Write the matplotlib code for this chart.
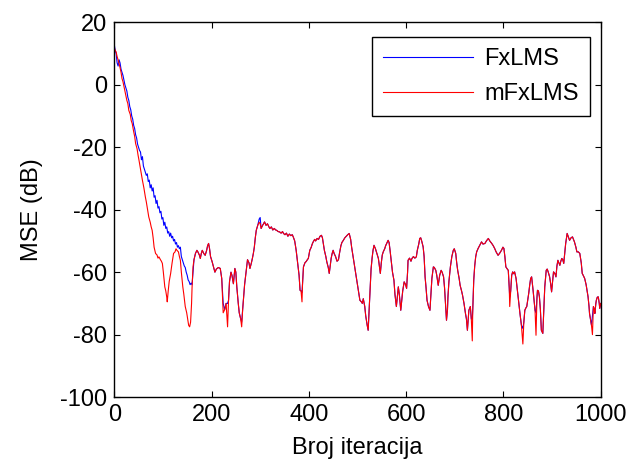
from matplotlib import pyplot as plt
import numpy as np

plt.rcParams['font.family'] = ['Liberation Sans', 'DejaVu Sans']
plt.rcParams['axes.unicode_minus'] = False

FONT_SIZE = 17

# convergence phase, FxLMS (iteration, MSE in dB)
fx_head_it = [0, 2, 4, 6, 8, 10, 12, 14, 16, 18, 20, 22, 24, 26, 28, 30, 32, 34, 36, 38,
              40, 42, 44, 46, 48, 50, 52, 54, 56, 58, 60, 62, 64, 66, 68, 70, 72, 74, 76, 78,
              80, 82, 84, 86, 88, 90, 92, 94, 96, 98, 100, 102, 104, 106, 108, 110, 112, 114,
              116, 118, 120, 122, 124, 126, 128, 130, 132, 134, 136, 138, 140, 142, 144, 146,
              148, 150, 152, 154, 156, 158, 160, 162, 164, 167]
fx_head_db = [13, 11, 10, 7, 6, 8, 7, 5, 4, 3, 1.5, 0, -1, -2, -4, -5, -7, -8, -10, -11,
              -13, -14, -16, -17, -19, -20, -21, -21.5, -24, -23, -26, -27, -28, -29, -28.5, -31, -30.5, -33, -32, -34,
              -33, -36, -35.5, -38, -37, -39.5, -39, -41, -40.5, -43, -42.5, -45, -44, -46, -45.5, -47.5, -47, -48.5,
              -47.5, -49, -48.5, -50, -49.5, -51, -50.5, -52, -51.5, -52.5, -52, -55, -56, -57, -58, -58.5,
              -60, -61, -62.5, -63, -64, -63.5, -64, -60, -56, -54]

# convergence phase, mFxLMS
mfx_head_it = [0, 2, 4, 6, 8, 10, 12, 14, 16, 18, 20, 23, 26, 28, 30, 33, 35, 37, 40, 42,
               44, 47, 49, 51, 54, 56, 58, 61, 64, 66, 68, 71, 74, 76, 78, 80, 82, 85, 88, 90,
               92, 95, 97, 99, 101, 104, 106, 108, 109, 111, 113, 116, 119, 122, 125, 127, 129,
               132, 134, 136, 138, 141, 143, 146, 149, 152, 153, 155, 157, 159, 160, 162, 164, 167]
mfx_head_db = [12, 11, 10.5, 9, 8, 6.8, 5.5, 4, 2, 1, -0.5, -2.8, -5, -6, -8.2, -9.5, -11.5, -12.4, -15, -16.5,
               -18.8, -20.5, -22.5, -24.2, -27, -29, -30.6, -33, -35.9, -37.5, -39.5, -42.3, -44, -45.5, -46.6, -49, -52, -54, -54.5, -55.5,
               -55.1, -56, -56.5, -57.2, -60, -64.7, -66, -68, -69.5, -66, -63, -60.4, -57, -54, -53.5, -52.5, -53,
               -53.5, -55, -56.2, -60, -64.7, -67, -71, -73, -75.9, -77, -77.5, -76, -70, -65, -58.3, -56, -54]

# steady state, both algorithms follow the same trajectory
tail_it = [170, 172, 175, 177, 179, 181, 184, 187, 190, 192, 194, 196, 198, 201, 204, 207, 210, 214, 218, 221,
           224, 227, 230, 233, 235, 237, 240, 242, 245, 248, 250, 252, 255, 257, 260, 262, 264, 266, 268, 271,
           274, 277, 279, 282, 284, 286, 288, 290, 292, 295, 298, 300, 302, 305, 307, 309, 312, 315, 318, 320,
           323, 326, 329, 332, 334, 337, 340, 343, 346, 348, 351, 354, 357, 360, 363, 366, 368, 371, 374, 377,
           380, 382, 384, 386, 387, 389, 392, 395, 397, 399, 402, 405, 407, 409, 412, 414, 417, 420, 423, 426,
           428, 430, 432, 435, 437, 440, 442, 444, 446, 448, 450, 452, 455, 458, 461, 463, 466, 468, 471, 474,
           477, 480, 483, 486, 488, 491, 494, 497, 500, 503, 505, 508, 510, 512, 515, 517, 520, 522, 524, 526,
           528, 530, 532, 534, 537, 540, 543, 545, 547, 549, 551, 553, 556, 558, 561, 563, 565, 567, 570, 572,
           575, 577, 580, 582, 584, 586, 589, 591, 593, 596, 599, 601, 603, 604, 607, 610, 612, 615, 618, 621,
           623, 626, 628, 630, 632, 635, 637, 639, 641, 643, 646, 649, 651, 653, 656, 658, 661, 663, 666, 669,
           672, 674, 677, 679, 681, 683, 685, 686, 688, 691, 694, 697, 699, 702, 704, 706, 709, 711, 714, 716,
           719, 722, 724, 726, 728, 729, 732, 734, 736, 737, 739, 741, 743, 745, 748, 751, 755, 758, 762, 765,
           769, 772, 776, 779, 782, 785, 789, 792, 796, 799, 801, 803, 805, 808, 810, 812, 813, 815, 817, 819,
           821, 823, 826, 828, 831, 834, 837, 840, 842, 844, 846, 848, 850, 852, 854, 856, 858, 861, 863, 865,
           867, 869, 870, 872, 874, 876, 878, 881, 883, 885, 888, 890, 892, 895, 897, 899, 901, 903, 906, 908,
           910, 912, 914, 916, 918, 920, 922, 924, 926, 928, 931, 933, 936, 939, 942, 944, 946, 949, 951, 954,
           957, 960, 962, 964, 967, 970, 972, 974, 976, 977, 979, 981, 983, 985, 987, 988, 990, 991, 993, 995,
           997, 998, 1000]
tail_db = [-53, -53.5, -54.5, -55.6, -54, -53, -54, -54.6, -53, -51.5, -50.8, -52.5, -55, -56.5, -58.3, -60, -59, -58.5, -58.8, -62,
           -73, -72, -70, -77.5, -69, -63, -60, -61, -63.7, -58.8, -60, -64.7, -70, -73, -75, -77.5, -72, -68, -64, -60,
           -56, -57, -58.8, -57, -55.6, -54, -52, -49, -46.6, -45, -44, -44.5, -46, -45, -44.5, -43.9, -45, -44.5, -45.5, -46,
           -45.5, -46.5, -46, -46.5, -46.6, -47, -47.1, -47.5, -47, -47.6, -48, -47.5, -48.5, -47.8, -48.3, -48, -48.7, -50, -53, -57,
           -61, -65.8, -66, -69.5, -64, -58.3, -57, -56.5, -56, -55.6, -53, -52, -51, -50.3, -49.5, -50, -49.2, -49.5, -48.5, -48.2,
           -49, -51, -53, -55, -56.7, -58.5, -60.4, -58, -55.5, -54, -53, -54, -55, -56.5, -56, -54, -51.5, -50.5, -49.8, -49,
           -48.5, -48, -47.6, -49.5, -52, -55.1, -58, -61, -64, -67, -69, -69.5, -70, -68.5, -71, -74, -77, -78.6, -72, -64.7,
           -59, -55.6, -53, -51.4, -52.5, -54, -55.6, -58, -60.4, -57, -54.5, -53.5, -52.5, -51.5, -50.5, -49.8, -50.5, -53, -57.2, -60,
           -62.6, -67, -71, -68, -64.7, -67, -72.2, -69, -66, -63.1, -64, -65.2, -60, -56.2, -55.5, -56.5, -55.6, -55, -55.5, -55.1,
           -53, -51, -49.2, -49, -50, -51.9, -55, -61.5, -65, -69, -71, -72.2, -67, -62, -58.3, -58.5, -59.4, -61, -64.2, -61,
           -59.4, -60, -61.5, -65, -70, -75.4, -72, -67.9, -63, -58.3, -55, -53, -52.5, -54, -57, -59.4, -62, -64.2, -66, -67.4,
           -70, -73.2, -75, -78.6, -74, -72.2, -71, -75, -82, -72, -62.6, -58, -55.1, -53.5, -52.4, -51.5, -50.3, -51, -50.8, -50,
           -49.2, -50, -50.8, -51.5, -52.4, -53.5, -54.6, -54, -53, -52, -52.4, -55, -58.3, -59, -59.4, -65, -71, -66, -61, -59.9,
           -60.5, -59.9, -62, -64.7, -69, -73.2, -77, -83, -76, -72.2, -71.5, -71, -69, -66.8, -64.2, -62, -61.5, -65.8, -69, -72.2,
           -80.2, -68, -65.8, -66, -67.9, -72, -78.6, -79.6, -72, -64.7, -59.4, -59, -59.9, -61.5, -63.6, -66.3, -63, -59.9, -60.5, -61.5,
           -58, -56.2, -57, -57.8, -56.5, -55.6, -56, -57.2, -54, -50.8, -47.6, -48.5, -49.8, -49, -48.7, -49.5, -50.3, -52, -53.5, -53.5,
           -54, -57, -60.4, -61, -62, -64, -66, -67.9, -71, -73.2, -75, -77, -80, -71, -72, -73.2, -70, -69, -68, -67.9,
           -70, -71.6, -70]

# points where FxLMS departs from mFxLMS in the steady state
fx_tail_diff = {224: -70, 233: -70, 262: -76, 298: -43, 300: -42.5, 386: -66.5,
                736: -75, 813: -68, 840: -78, 867: -73, 983: -74}

fx_tail_db = [fx_tail_diff.get(i, v) for i, v in zip(tail_it, tail_db)]

fx_it = np.array(fx_head_it + tail_it)
fx_db = np.array(fx_head_db + fx_tail_db)
mfx_it = np.array(mfx_head_it + tail_it)
mfx_db = np.array(mfx_head_db + tail_db)

fig = plt.figure(figsize=(6.31, 4.65), dpi=100)
ax = fig.add_axes([0.181, 0.146, 0.771, 0.806])

ax.plot(fx_it, fx_db, color="#0000ff", linewidth=0.8, label="FxLMS")
ax.plot(mfx_it, mfx_db, color="#ff0000", linewidth=0.8, label="mFxLMS")

ax.set_xlim(0, 1000)
ax.set_ylim(-100, 20)
ax.set_xticks(np.arange(0, 1001, 200))
ax.set_yticks(np.arange(-100, 21, 20))
ax.tick_params(direction="in", top=True, right=True, length=4, width=0.8,
               labelsize=FONT_SIZE, pad=5)
for s in ax.spines.values():
    s.set_linewidth(1.0)

ax.set_xlabel("Broj iteracija", fontsize=FONT_SIZE, labelpad=8)
ax.set_ylabel("MSE (dB)", fontsize=FONT_SIZE, labelpad=12)

lgd = ax.legend(loc="upper right", bbox_to_anchor=(0.977, 0.96), fontsize=FONT_SIZE,
                fancybox=False, framealpha=1, edgecolor="black", handlelength=3.8,
                handletextpad=0.5, labelspacing=0.55, borderaxespad=0.,
                borderpad=0.45)
lgd.get_frame().set_linewidth(1.0)

fig.savefig("out.png", dpi=100)
